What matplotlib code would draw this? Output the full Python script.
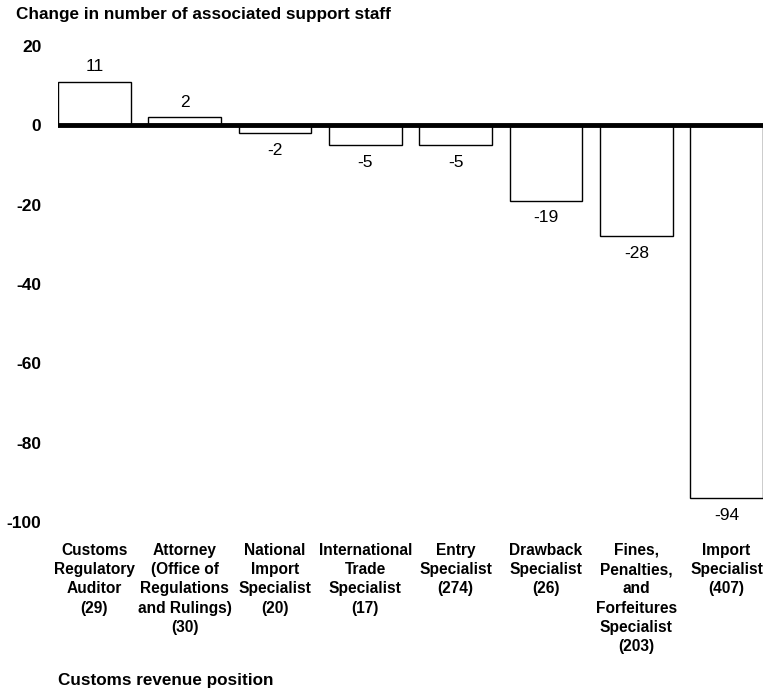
import matplotlib.pyplot as plt
import numpy as np

plt.rcParams['font.family'] = ['Liberation Sans', 'DejaVu Sans']

# === DATOS ===
categorias = [
    "Customs\nRegulatory\nAuditor\n(29)",
    "Attorney\n(Office of\nRegulations\nand Rulings)\n(30)",
    "National\nImport\nSpecialist\n(20)",
    "International\nTrade\nSpecialist\n(17)",
    "Entry\nSpecialist\n(274)",
    "Drawback\nSpecialist\n(26)",
    "Fines,\nPenalties,\nand\nForfeitures\nSpecialist\n(203)",
    "Import\nSpecialist\n(407)",
]
cambios = [11, 2, -2, -5, -5, -19, -28, -94]
yticks = [20, 0, -20, -40, -60, -80, -100]

# === FIGURA ===
fig = plt.figure(figsize=(7.63, 6.88), dpi=100)
ax = fig.add_axes([0.076, 0.2413, 0.924, 0.692])

x = np.arange(len(cambios))
ax.bar(x, cambios, width=0.806, color="white", edgecolor="black", linewidth=1.0, zorder=2)
ax.axhline(0, color="black", linewidth=3.5, zorder=3)

for xi, v in zip(x, cambios):
    if v >= 0:
        ax.text(xi, v + 1.8, str(v), ha="center", va="bottom", fontsize=12.5)
    else:
        ax.text(xi, v - 2.4, str(v), ha="center", va="top", fontsize=12.5)

ax.set_xlim(-0.403, len(cambios) - 1 + 0.403)
ax.set_ylim(-100, 20)
ax.set_yticks(yticks)
ax.set_yticklabels([str(t) for t in yticks], fontweight="bold", fontsize=12.5)
ax.set_xticks(x)
ax.set_xticklabels(categorias, fontweight="bold", fontsize=11.2, linespacing=1.36, va="top")
ax.tick_params(axis="both", length=0)
ax.tick_params(axis="y", pad=12)
ax.tick_params(axis="x", pad=15)
for sp in ax.spines.values():
    sp.set_visible(False)

fig.text(16 / 763, 1 - 15 / 688, "Change in number of associated support staff",
         fontweight="bold", fontsize=12.3, ha="left", va="center")
fig.text(58 / 763, 1 - 680 / 688, "Customs revenue position",
         fontweight="bold", fontsize=12.3, ha="left", va="center")

fig.savefig("out.png", dpi=100)
